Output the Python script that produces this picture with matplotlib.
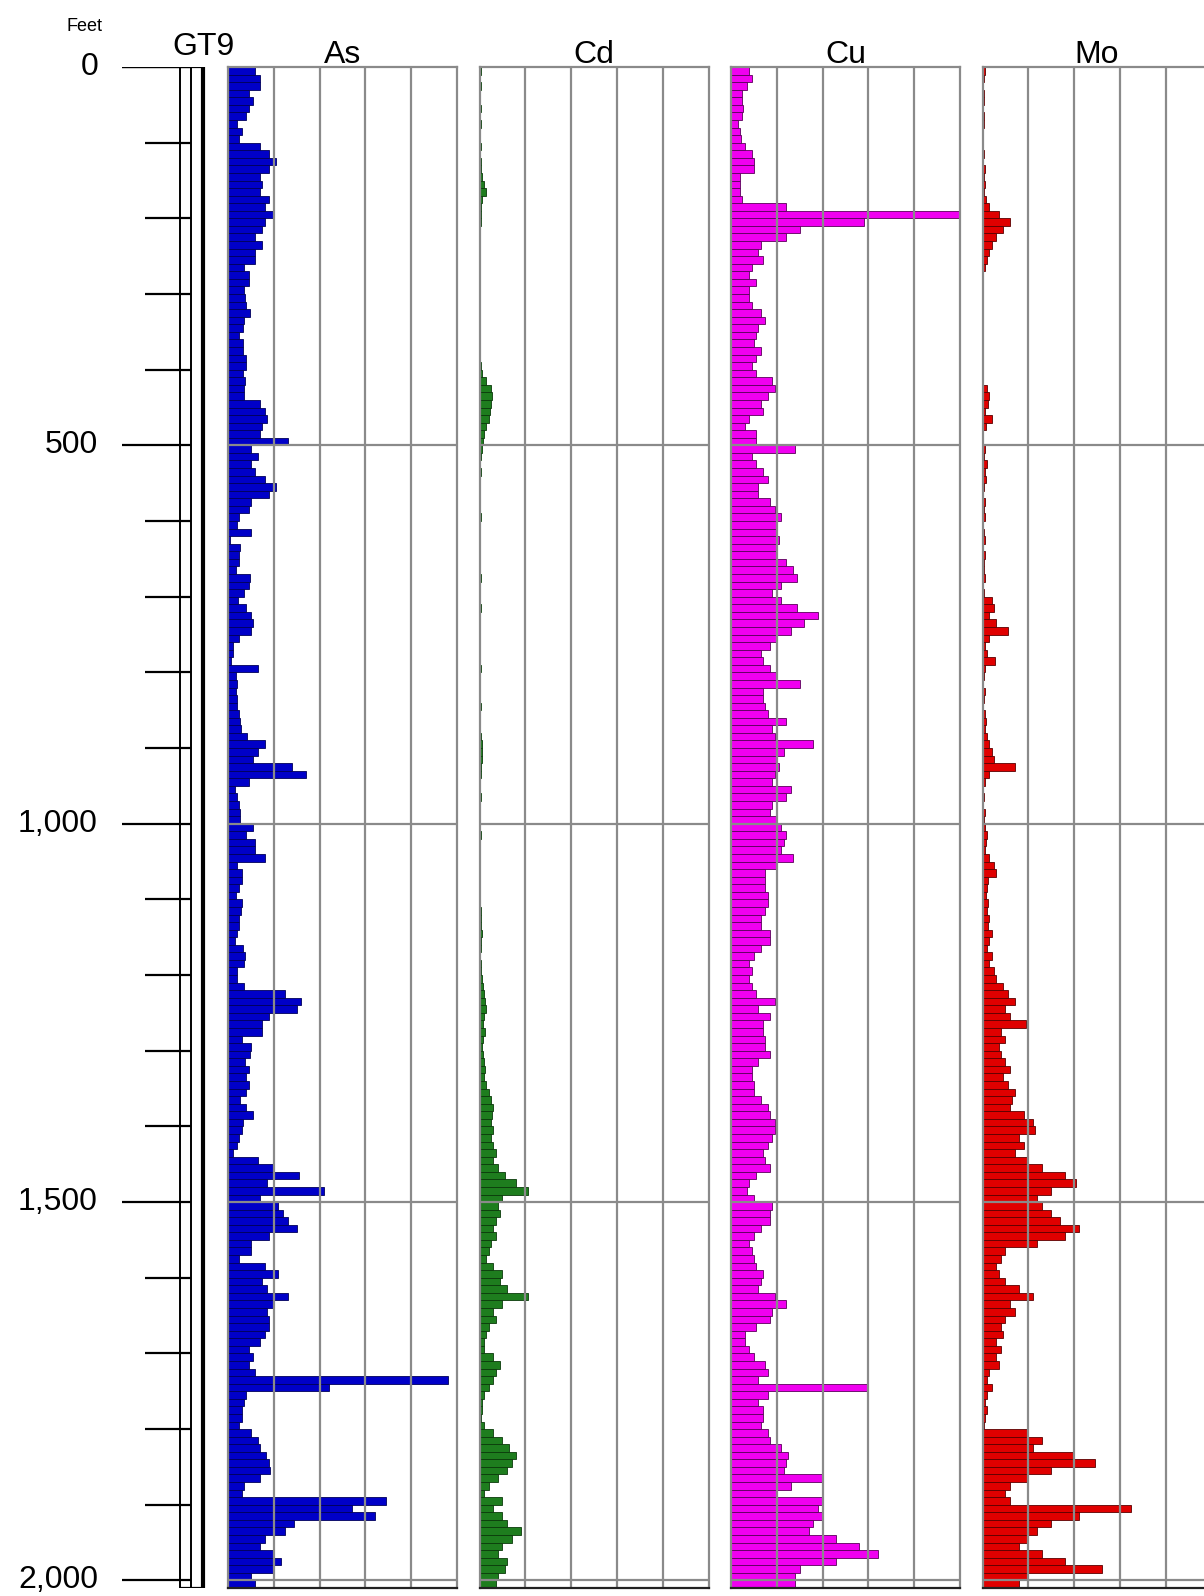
import numpy as np
import matplotlib
matplotlib.use("Agg")
import matplotlib.pyplot as plt

plt.rcParams['font.family'] = ['Liberation Sans', 'DejaVu Sans']

# sample tops every 10 ft, values in track divisions (0-5)
depth = np.arange(0, 2010, 10)

as_vals = [
    0.6, 0.7, 0.7, 0.45, 0.55, 0.45, 0.4, 0.2, 0.3, 0.25,
    0.7, 0.9, 1.05, 0.9, 0.7, 0.75, 0.7, 0.9, 0.8, 1.0,
    0.8, 0.75, 0.6, 0.75, 0.6, 0.6, 0.35, 0.45, 0.45, 0.35,
    0.38, 0.4, 0.48, 0.36, 0.33, 0.25, 0.33, 0.32, 0.4, 0.4,
    0.32, 0.38, 0.35, 0.36, 0.7, 0.8, 0.85, 0.75, 0.7, 1.3,
    0.5, 0.65, 0.5, 0.6, 0.8, 1.05, 0.9, 0.5, 0.45, 0.25,
    0.2, 0.5, 0.05, 0.27, 0.23, 0.23, 0.18, 0.48, 0.45, 0.35,
    0.22, 0.4, 0.5, 0.55, 0.5, 0.25, 0.1, 0.12, 0.07, 0.65,
    0.18, 0.2, 0.18, 0.2, 0.2, 0.23, 0.27, 0.28, 0.42, 0.8,
    0.65, 0.55, 1.4, 1.7, 0.45, 0.15, 0.2, 0.25, 0.27, 0.27,
    0.55, 0.4, 0.6, 0.6, 0.8, 0.2, 0.3, 0.3, 0.23, 0.18,
    0.3, 0.28, 0.23, 0.25, 0.2, 0.15, 0.32, 0.38, 0.35, 0.2,
    0.2, 0.35, 1.25, 1.6, 1.5, 0.9, 0.75, 0.75, 0.3, 0.5,
    0.48, 0.38, 0.45, 0.4, 0.45, 0.4, 0.27, 0.4, 0.55, 0.32,
    0.3, 0.25, 0.2, 0.1, 0.65, 1.0, 1.55, 0.85, 2.1, 0.7,
    1.1, 1.2, 1.3, 1.5, 0.9, 0.5, 0.5, 0.25, 0.8, 1.1,
    0.75, 0.85, 1.3, 1.0, 0.85, 0.9, 0.9, 0.8, 0.7, 0.45,
    0.55, 0.45, 0.6, 4.8, 2.2, 0.4, 0.35, 0.3, 0.3, 0.25,
    0.5, 0.65, 0.7, 0.82, 0.9, 0.92, 0.7, 0.35, 0.3, 3.45,
    2.7, 3.2, 1.45, 1.25, 0.8, 0.7, 1.0, 1.15, 1.0, 0.5,
    0.6,
]

cd_vals = [
    0.03, 0.02, 0.03, 0.02, 0.02, 0.03, 0.02, 0.03, 0.02, 0.02,
    0.03, 0.02, 0.04, 0.03, 0.05, 0.1, 0.15, 0.05, 0.03, 0.04,
    0.03, 0.02, 0.02, 0.02, 0.01, 0.02, 0.01, 0.02, 0.01, 0.02,
    0.02, 0.01, 0.02, 0.01, 0.02, 0.02, 0.01, 0.02, 0.02, 0.03,
    0.05, 0.15, 0.25, 0.28, 0.25, 0.22, 0.2, 0.15, 0.1, 0.08,
    0.05, 0.03, 0.02, 0.03, 0.02, 0.02, 0.01, 0.02, 0.02, 0.03,
    0.02, 0.01, 0.02, 0.02, 0.01, 0.02, 0.02, 0.03, 0.02, 0.01,
    0.02, 0.03, 0.02, 0.01, 0.02, 0.02, 0.01, 0.02, 0.02, 0.03,
    0.02, 0.02, 0.01, 0.02, 0.03, 0.02, 0.02, 0.02, 0.03, 0.05,
    0.05, 0.06, 0.04, 0.03, 0.02, 0.02, 0.03, 0.02, 0.01, 0.02,
    0.02, 0.03, 0.02, 0.02, 0.01, 0.02, 0.02, 0.02, 0.01, 0.02,
    0.02, 0.03, 0.04, 0.03, 0.05, 0.04, 0.03, 0.02, 0.03, 0.04,
    0.05, 0.08, 0.1, 0.12, 0.15, 0.1, 0.08, 0.12, 0.08, 0.06,
    0.08, 0.1, 0.12, 0.1, 0.15, 0.2, 0.25, 0.3, 0.28, 0.25,
    0.3, 0.25, 0.3, 0.35, 0.3, 0.4, 0.55, 0.8, 1.05, 0.5,
    0.4, 0.45, 0.35, 0.3, 0.35, 0.25, 0.2, 0.15, 0.3, 0.5,
    0.45, 0.6, 1.05, 0.5, 0.3, 0.35, 0.2, 0.15, 0.1, 0.1,
    0.3, 0.45, 0.35, 0.3, 0.2, 0.1, 0.05, 0.05, 0.03, 0.1,
    0.3, 0.5, 0.65, 0.8, 0.7, 0.6, 0.4, 0.2, 0.1, 0.5,
    0.3, 0.5, 0.6, 0.9, 0.7, 0.5, 0.4, 0.6, 0.55, 0.4,
    0.35,
]

cu_vals = [
    0.4, 0.45, 0.35, 0.25, 0.25, 0.27, 0.23, 0.15, 0.2, 0.22,
    0.3, 0.45, 0.5, 0.5, 0.2, 0.2, 0.2, 0.25, 1.2, 5.0,
    2.9, 1.5, 1.2, 0.65, 0.6, 0.7, 0.45, 0.4, 0.55, 0.4,
    0.4, 0.45, 0.65, 0.75, 0.6, 0.55, 0.5, 0.65, 0.55, 0.45,
    0.55, 0.9, 0.95, 0.8, 0.65, 0.7, 0.4, 0.3, 0.55, 0.55,
    1.4, 0.45, 0.55, 0.7, 0.8, 0.6, 0.6, 0.85, 0.95, 1.1,
    1.0, 1.0, 1.05, 1.0, 1.0, 1.2, 1.35, 1.45, 1.1, 0.9,
    1.1, 1.45, 1.9, 1.6, 1.3, 1.0, 0.85, 0.65, 0.7, 0.85,
    1.0, 1.5, 0.7, 0.7, 0.75, 0.8, 1.2, 0.9, 0.95, 1.8,
    1.15, 1.0, 1.05, 0.95, 0.9, 1.3, 1.2, 0.9, 0.85, 1.0,
    1.1, 1.2, 1.15, 1.1, 1.35, 1.0, 0.75, 0.75, 0.75, 0.8,
    0.8, 0.75, 0.65, 0.65, 0.85, 0.85, 0.65, 0.5, 0.4, 0.45,
    0.4, 0.45, 0.55, 0.95, 0.6, 0.85, 0.7, 0.7, 0.75, 0.75,
    0.85, 0.6, 0.45, 0.45, 0.5, 0.5, 0.65, 0.8, 0.85, 0.95,
    0.95, 0.9, 0.8, 0.7, 0.75, 0.85, 0.55, 0.4, 0.35, 0.5,
    0.9, 0.85, 0.85, 0.65, 0.5, 0.4, 0.45, 0.5, 0.55, 0.7,
    0.65, 0.6, 0.95, 1.2, 0.9, 0.85, 0.55, 0.3, 0.3, 0.4,
    0.5, 0.75, 0.8, 0.6, 3.0, 0.8, 0.6, 0.7, 0.7, 0.65,
    0.8, 0.85, 1.1, 1.25, 1.2, 1.15, 2.0, 1.3, 1.0, 2.0,
    1.9, 2.0, 1.8, 1.7, 2.3, 2.8, 3.2, 2.3, 1.5, 1.4,
    1.4,
]

mo_vals = [
    0.05, 0.03, 0.02, 0.03, 0.03, 0.02, 0.03, 0.03, 0.02, 0.02,
    0.02, 0.03, 0.02, 0.05, 0.03, 0.05, 0.03, 0.08, 0.15, 0.35,
    0.6, 0.45, 0.3, 0.2, 0.15, 0.1, 0.05, 0.02, 0.02, 0.01,
    0.01, 0.01, 0.02, 0.01, 0.01, 0.01, 0.01, 0.02, 0.01, 0.01,
    0.02, 0.01, 0.1, 0.15, 0.12, 0.05, 0.2, 0.08, 0.02, 0.02,
    0.05, 0.03, 0.1, 0.05, 0.08, 0.03, 0.02, 0.05, 0.03, 0.05,
    0.02, 0.03, 0.05, 0.02, 0.05, 0.03, 0.03, 0.05, 0.02, 0.03,
    0.2, 0.25, 0.15, 0.3, 0.55, 0.15, 0.05, 0.1, 0.27, 0.05,
    0.03, 0.02, 0.05, 0.03, 0.02, 0.05, 0.08, 0.05, 0.1, 0.15,
    0.2, 0.25, 0.7, 0.15, 0.05, 0.02, 0.03, 0.02, 0.05, 0.03,
    0.05, 0.1, 0.08, 0.05, 0.15, 0.25, 0.3, 0.12, 0.1, 0.08,
    0.12, 0.1, 0.15, 0.12, 0.2, 0.15, 0.1, 0.2, 0.15, 0.25,
    0.3, 0.45, 0.55, 0.7, 0.5, 0.6, 0.95, 0.4, 0.5, 0.35,
    0.4, 0.5, 0.6, 0.45, 0.55, 0.7, 0.65, 0.6, 0.9, 1.1,
    1.15, 0.8, 0.9, 0.7, 1.0, 1.3, 1.8, 2.05, 1.5, 1.2,
    1.3, 1.5, 1.7, 2.1, 1.8, 1.2, 0.5, 0.4, 0.3, 0.35,
    0.5, 0.8, 1.1, 0.6, 0.7, 0.5, 0.4, 0.45, 0.3, 0.4,
    0.3, 0.35, 0.15, 0.1, 0.2, 0.1, 0.05, 0.1, 0.05, 0.03,
    1.0, 1.3, 1.1, 2.0, 2.45, 1.5, 1.0, 0.6, 0.5, 0.6,
    3.25, 2.1, 1.5, 1.2, 1.0, 0.8, 1.3, 1.8, 2.6, 1.0,
    0.8,
]

tracks = ["As", "Cd", "Cu", "Mo"]
values = [as_vals, cd_vals, cu_vals, mo_vals]
faces = ["#0000c8", "#1e7d1e", "#f000f0", "#e00000"]
edges = ["#00005a", "#0a3a0a", "#5a005a", "#5a0000"]

major_depths = [0, 500, 1000, 1500, 2000]
major_labels = ["0", "500", "1,000", "1,500", "2,000"]
minor_depths = [100, 200, 300, 400, 600, 700, 800, 900, 1100, 1200,
                1300, 1400, 1600, 1700, 1800, 1900]

W, H = 1204, 1596
fig = plt.figure(figsize=(W / 100, H / 100), dpi=100)

top_px, bot_px = 67, 1588
ymax = 2010
grid_c = "#8a8a8a"


def px_axes(x0, x1):
    return fig.add_axes([x0 / W, 1 - bot_px / H, (x1 - x0) / W, (bot_px - top_px) / H])


# depth scale column
axd = px_axes(0, 220)
axd.set_xlim(0, 220)
axd.set_ylim(ymax, 0)
axd.axis("off")
axd.hlines(major_depths, 122, 191, color="black", lw=1.6)
axd.hlines(minor_depths, 145, 191, color="black", lw=1.6)
axd.hlines([0], 122, 204, color="black", lw=1.6)
axd.vlines([180, 191], 0, ymax, color="black", lw=1.4)
axd.vlines([203], 0, ymax, color="black", lw=3.0)
axd.hlines([ymax], 180, 204, color="black", lw=1.6)
for d, lab in zip(major_depths, major_labels):
    axd.text(98, d, lab, ha="right", va="center", fontsize=23)
fig.text(85 / W, 1 - 31 / H, "Feet", ha="center", va="baseline", fontsize=13)
fig.text(203 / W, 1 - 55 / H, "GT9", ha="center", va="baseline", fontsize=23)

# element tracks
lefts = [228, 479.5, 731, 982.5]
tw = 229
for name, vals, fc, ec, x0 in zip(tracks, values, faces, edges, lefts):
    ax = px_axes(x0, x0 + tw)
    ax.barh(depth, vals, height=10, align="edge", color=fc, edgecolor=ec,
            linewidth=0.6, zorder=1)
    ax.set_xlim(0, 5)
    ax.set_ylim(ymax, 0)
    ax.set_xticks([1, 2, 3, 4])
    ax.set_yticks([500, 1000, 1500, 2000])
    ax.set_axisbelow(False)
    ax.grid(True, color=grid_c, lw=1.6, zorder=2)
    ax.tick_params(length=0, labelleft=False, labelbottom=False)
    for s in ax.spines.values():
        s.set_color(grid_c)
        s.set_linewidth(1.6)
        s.set_zorder(3)
    ax.spines["bottom"].set_color("#222222")
    fig.text((x0 + tw / 2) / W, 1 - 63 / H, name, ha="center", va="baseline",
             fontsize=23)

fig.savefig("out.png", dpi=100)
